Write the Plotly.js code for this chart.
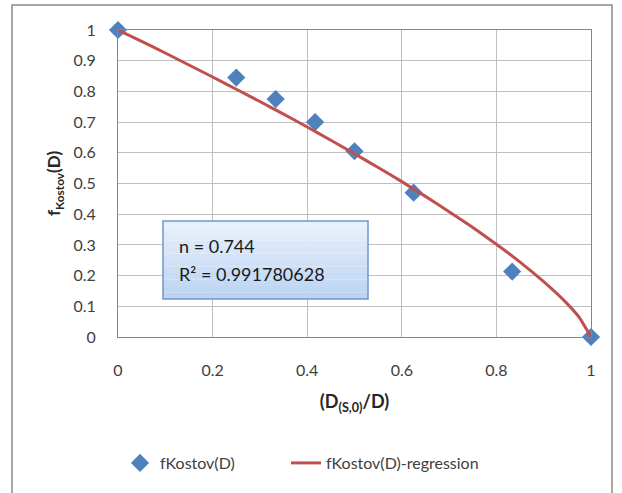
<!DOCTYPE html>
<html>
<head>
<meta charset="utf-8">
<script src="https://cdn.plot.ly/plotly-3.0.1.min.js"></script>
<style>
html,body{margin:0;padding:0;background:#fff;}
#chart{width:622px;height:493px;}
</style>
</head>
<body>
<div id="chart"></div>
<script>
// Measured points
const ratioX = [0, 0.25, 0.3333, 0.4167, 0.5, 0.625, 0.8333, 1];
const fKostov = [1, 0.845, 0.775, 0.70, 0.605, 0.47, 0.213, 0];

// Regression curve
const regX = [0, 0.05, 0.1, 0.15, 0.2, 0.25, 0.3, 0.35, 0.4, 0.45, 0.5, 0.55, 0.6, 0.65, 0.7, 0.75, 0.8, 0.85, 0.9, 0.95, 0.975, 1];
const regY = [1, 0.963, 0.925, 0.886, 0.847, 0.807, 0.767, 0.726, 0.684, 0.641, 0.597, 0.552, 0.506, 0.458, 0.408, 0.357, 0.302, 0.244, 0.180, 0.108, 0.064, 0];

const seriesNames = ['fKostov(D)', 'fKostov(D)-regression'];
const xTicks = [0, 0.2, 0.4, 0.6, 0.8, 1];
const yTicks = [0, 0.1, 0.2, 0.3, 0.4, 0.5, 0.6, 0.7, 0.8, 0.9, 1];
const boxLines = ['n = 0.744', 'R² = 0.991780628'];

const FONT = 'Lato, "Open Sans", sans-serif';

const traces = [
  {
    x: ratioX, y: fKostov, name: seriesNames[0], type: 'scatter', mode: 'markers',
    marker: {symbol: 'diamond', size: 14, color: '#4f81bd'},
    cliponaxis: false, legend: 'legend'
  },
  {
    x: regX, y: regY, name: seriesNames[1], type: 'scatter', mode: 'lines',
    line: {color: '#c0504d', width: 3, shape: 'spline', smoothing: 0.6},
    cliponaxis: false, legend: 'legend2'
  }
];

// Plot area: left 118, right 591, top 30, bottom 337
const L = 118, R = 591, T = 30, B = 337;
const px = v => (v - L) / (R - L);
const py = v => (B - v) / (B - T);

const shapes = [];
// outer frame
shapes.push({type: 'rect', xref: 'paper', yref: 'paper', x0: px(12), x1: px(612), y0: py(510), y1: py(5),
  line: {color: '#8a8a8a', width: 1.5}, fillcolor: 'rgba(0,0,0,0)', layer: 'below'});
// gradient box
const bx0 = 163, bx1 = 368, by0 = 221, by1 = 299;
const bands = 12;
for (let i = 0; i < bands; i++) {
  const t = i / (bands - 1);
  const r = Math.round(232 + (188 - 232) * t);
  const g = Math.round(240 + (212 - 240) * t);
  const b = Math.round(251 + (243 - 251) * t);
  const ya = by0 + (by1 - by0) * i / bands;
  const yb = by0 + (by1 - by0) * (i + 1) / bands;
  shapes.push({type: 'rect', xref: 'paper', yref: 'paper', x0: px(bx0), x1: px(bx1), y0: py(yb), y1: py(ya),
    line: {width: 0}, fillcolor: `rgb(${r},${g},${b})`, layer: 'above'});
}
shapes.push({type: 'rect', xref: 'paper', yref: 'paper', x0: px(bx0), x1: px(bx1), y0: py(by1), y1: py(by0),
  line: {color: '#6f97cd', width: 1.5}, fillcolor: 'rgba(0,0,0,0)', layer: 'above'});

const annotations = [
  {xref: 'paper', yref: 'paper', x: px(177), y: py(246), xanchor: 'left', yanchor: 'middle', showarrow: false,
   text: boxLines[0], font: {family: FONT, size: 18, color: '#1a1a1a'}},
  {xref: 'paper', yref: 'paper', x: px(177), y: py(274), xanchor: 'left', yanchor: 'middle', showarrow: false,
   text: boxLines[1], font: {family: FONT, size: 18, color: '#1a1a1a'}}
];

const legendFont = {family: FONT, size: 16, color: '#404040'};

const layout = {
  width: 622, height: 493,
  margin: {l: L, r: 622 - R, t: T, b: 493 - B},
  paper_bgcolor: '#ffffff', plot_bgcolor: '#ffffff',
  font: {family: FONT, size: 16, color: '#404040'},
  showlegend: true,
  legend: {orientation: 'h', x: px(120), y: py(463), xanchor: 'left', yanchor: 'middle',
    font: legendFont, bgcolor: 'rgba(0,0,0,0)'},
  legend2: {orientation: 'h', x: px(286), y: py(463), xanchor: 'left', yanchor: 'middle',
    font: legendFont, bgcolor: 'rgba(0,0,0,0)'},
  xaxis: {
    range: [0, 1], tickvals: xTicks, ticktext: xTicks.map(String),
    showgrid: true, gridcolor: '#bfbfbf', gridwidth: 1,
    showline: true, linecolor: '#868686', linewidth: 1, mirror: true,
    zeroline: false, ticks: '', ticklabelstandoff: 19,
    tickfont: {family: FONT, size: 16, color: '#404040'},
    title: {text: '<b>(D<sub>(S,0)</sub>/D)</b>', standoff: 17, font: {family: FONT, size: 18, color: '#262626'}},
    automargin: false
  },
  yaxis: {
    range: [0, 1], tickvals: yTicks, ticktext: yTicks.map(String),
    showgrid: true, gridcolor: '#bfbfbf', gridwidth: 1,
    showline: true, linecolor: '#868686', linewidth: 1, mirror: true,
    zeroline: false, ticks: '', ticklabelstandoff: 18,
    tickfont: {family: FONT, size: 16, color: '#404040'},
    title: {text: '<b>f<sub>Kostov</sub>(D)</b>', standoff: 8, font: {family: FONT, size: 17, color: '#262626'}},
    automargin: false
  },
  shapes: shapes,
  annotations: annotations
};

Plotly.newPlot('chart', traces, layout, {displayModeBar: false, staticPlot: true});
</script>
</body>
</html>
